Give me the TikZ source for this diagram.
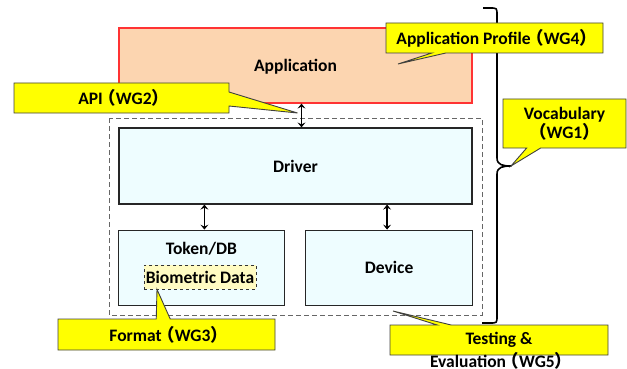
\documentclass[tikz,border=0pt]{standalone}
\usepackage{fontspec}
\setmainfont{Carlito}
\newfontfamily\cjk{Noto Sans CJK JP}
\usepackage{tikz}
\usetikzlibrary{calc,positioning,shapes.callouts,arrows.meta}

% full-width brackets, squeezed a little
\newcommand{\lpar}{\makebox[0.75em][r]{\cjk （}}
\newcommand{\rpar}{\makebox[0.75em][l]{\cjk ）}}

\definecolor{appfill}{HTML}{FCD5B0}
\definecolor{appline}{HTML}{FF3333}
\definecolor{blockfill}{HTML}{EEFDFF}
\definecolor{biofill}{HTML}{FFFBC2}
\definecolor{notefill}{HTML}{FFFF00}

\begin{document}
\begin{tikzpicture}[
    x=1pt, y=-1pt,
    font=\fontsize{17.5}{19}\selectfont\bfseries,
    block/.style={
        rectangle,
        draw=black!85,
        line width=1.2pt,
        fill=blockfill,
        inner sep=0pt},%盒子
    note/.style={
        rectangle callout,
        draw=black!75,
        line width=0.9pt,
        fill=notefill,
        inner sep=0pt,
        callout pointer width=14pt,
        align=center},
    link/.style={{Stealth[length=5pt,width=8pt,inset=2pt]}-{Stealth[length=5pt,width=8pt,inset=2pt]}, line width=1.3pt}]
  \useasboundingbox (0,0) rectangle (627,369);

  % outer dashed frame
  \draw[black!60, dashed, line width=1pt, dash pattern=on 5pt off 3pt] (109,118) rectangle (482,315);

  \node (app) [block, draw=appline, fill=appfill, minimum width=353pt, minimum height=75pt, text depth=-2pt] at (295.5,65.5) {Application};
  \node (driver) [block, minimum width=353pt, minimum height=76pt, text depth=-2pt] at (295.5,166) {Driver};
  \node (token) [block, minimum width=166pt, minimum height=75pt, below left=25pt and 10.5pt of driver.south] {};
  \node (device) [block, minimum width=167pt, minimum height=75pt, right=20pt of token] {Device};
  \node (tokentext) [below=9pt of token.north] {Token/DB};
  \node (bio) [draw=black!80, dashed, line width=0.8pt, fill=biofill, inner sep=0pt,
               minimum width=112pt, minimum height=24pt] at (200,277) {Biometric Data};

  \draw[link] ([xshift=6pt]app.south) -- ([xshift=6pt]driver.north);
  \draw[link] ([xshift=3pt]token.north) -- ([xshift=3pt]token.north |- driver.south);
  \draw[link] ([xshift=-2pt]device.north) -- ([xshift=-2pt]device.north |- driver.south);

  % brace on the right
  \coordinate (bracetip) at (511,166);
  \draw[line width=1.6pt, line join=round]
    (483,8) -- (490,8) .. controls (497,8) .. (497,15) -- (497,158)
    .. controls (497,165) and (503,166) .. (bracetip)
    .. controls (503,166) and (497,167) .. (497,174) -- (497,316)
    .. controls (497,323) .. (490,323) -- (482,323);

  \node (profile) [note, minimum width=217pt, minimum height=30pt,
                   callout absolute pointer={(398,64)}] at (494.5,38) {Application Profile\lpar WG4\rpar};
  \node (api) [note, minimum width=215pt, minimum height=30pt,
               callout absolute pointer={([xshift=2pt]app.south |- 0,113)}] at (121.5,98) {API\lpar WG2\rpar};
  \node (vocab) [note, minimum width=123pt, minimum height=49pt,
                 callout absolute pointer={(bracetip)}] at (564.5,123.5) {Vocabulary\\\lpar WG1\rpar};
  \node (format) [note, minimum width=217pt, minimum height=31pt,
                  callout absolute pointer={([xshift=-43pt]bio.south)}] at (166.5,334.5) {Format\lpar WG3\rpar};
  \node (testing) [note, minimum width=218pt, minimum height=30pt,
                   callout absolute pointer={(393,311)}] at (499,340) {Testing \&};
  \node (evaluation) [anchor=base, inner sep=0pt] at (499,367) {Evaluation\lpar WG5\rpar};
\end{tikzpicture}
\end{document}
